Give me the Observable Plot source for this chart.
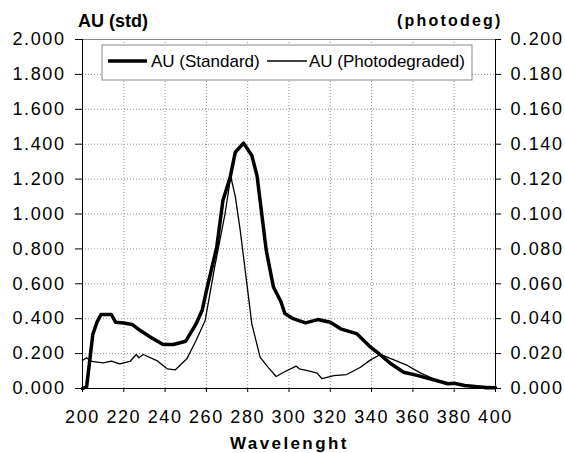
<!DOCTYPE html>
<html>
<head>
<meta charset="utf-8">
<script src="https://cdn.jsdelivr.net/npm/d3@7"></script>
<script src="https://cdn.jsdelivr.net/npm/@observablehq/plot@0.6"></script>
<style>
  html, body { margin: 0; padding: 0; background: #fff; }
  #chart svg { display: block; }
</style>
</head>
<body>
<div id="chart"></div>
<script>
// Standard series (left axis, AU std)
const stdWavelength = [200, 202, 205, 207, 209, 214, 216, 220, 224, 228, 233, 239, 244, 250, 255, 258, 260, 265, 268, 271.5, 274, 278, 282, 284.5, 286, 289, 292.5, 296, 298, 302, 308, 314, 320, 325, 333, 339.5, 344, 349, 355.5, 362, 370, 377, 380, 385, 390, 395, 400];
const stdAU = [0, 0.01, 0.31, 0.38, 0.424, 0.424, 0.38, 0.375, 0.367, 0.332, 0.294, 0.252, 0.252, 0.271, 0.37, 0.45, 0.56, 0.81, 1.077, 1.21, 1.354, 1.406, 1.335, 1.22, 1.077, 0.79, 0.58, 0.50, 0.43, 0.40, 0.376, 0.395, 0.38, 0.342, 0.313, 0.237, 0.195, 0.145, 0.093, 0.075, 0.05, 0.027, 0.03, 0.017, 0.012, 0.005, 0.005];

// Photodegraded series (right axis, AU photodeg)
const photoWavelength = [200, 202, 204.5, 210, 214, 218, 223, 226, 227.3, 229.4, 236, 241, 245, 250.5, 255, 259.4, 264, 269, 271.8, 274, 276.4, 279.6, 282, 286, 290, 293.8, 297.4, 303.5, 305, 310, 313.6, 316, 321.7, 328, 334.6, 339.5, 344.3, 350.8, 357.3, 363.8, 370, 375, 380, 386, 400];
const photoAU = [0.016, 0.0176, 0.0155, 0.0147, 0.0157, 0.0141, 0.0155, 0.0195, 0.0176, 0.0195, 0.016, 0.0113, 0.0107, 0.017, 0.0275, 0.039, 0.0695, 0.10, 0.1215, 0.11, 0.0905, 0.06, 0.037, 0.018, 0.012, 0.0069, 0.0093, 0.0128, 0.0113, 0.0099, 0.0088, 0.0056, 0.0074, 0.008, 0.0122, 0.0164, 0.0195, 0.0164, 0.0132, 0.0088, 0.0056, 0.003, 0.0027, 0.0015, 0.001];

const xTicks = [200, 220, 240, 260, 280, 300, 320, 340, 360, 380, 400];
const leftTicks = [0, 0.2, 0.4, 0.6, 0.8, 1.0, 1.2, 1.4, 1.6, 1.8, 2.0];
const rightRatio = 10; // left scale / right scale

const seriesNames = ["AU (Standard)", "AU (Photodegraded)"];
const leftTitle = "AU (std)";
const rightTitle = "(photodeg)";
const xTitle = "Wavelenght";

const stdData = stdWavelength.map((w, i) => ({w, v: stdAU[i]}));
const photoData = photoWavelength.map((w, i) => ({w, v: photoAU[i]}));

const sans = "'Liberation Sans', Arial, sans-serif";

const chart = Plot.plot({
  width: 565,
  height: 453,
  marginLeft: 82,
  marginRight: 70,
  marginTop: 39,
  marginBottom: 65,
  style: {fontFamily: sans, fontSize: "18px", letterSpacing: "1.6px", background: "#fff", color: "#000"},
  x: {domain: [200, 400]},
  y: {domain: [0, 2]},
  marks: [
    Plot.gridX(xTicks, {stroke: "#777", strokeOpacity: 0.8, strokeDasharray: "1,2"}),
    Plot.gridY(leftTicks, {stroke: "#777", strokeOpacity: 0.8, strokeDasharray: "1,2"}),
    Plot.ruleY([2], {stroke: "#888"}),
    Plot.ruleX([200], {stroke: "#000"}),
    Plot.ruleX([400], {stroke: "#000"}),
    Plot.ruleY([0], {stroke: "#000"}),
    Plot.axisX(xTicks, {anchor: "bottom", tickSize: 4, tickPadding: 18, label: null, tickFormat: d => String(d)}),
    Plot.axisY(leftTicks, {anchor: "left", tickSize: 7, tickPadding: 10, label: null, tickFormat: d3.format(".3f")}),
    Plot.axisY(leftTicks, {anchor: "right", tickSize: 5, tickPadding: 10, label: null, tickFormat: d => (d / rightRatio).toFixed(3)}),
    Plot.line(photoData, {x: "w", y: d => d.v * rightRatio, stroke: "#000", strokeWidth: 1.3, curve: "linear"}),
    Plot.line(stdData, {x: "w", y: "v", stroke: "#000", strokeWidth: 3.5, curve: "linear", strokeLinejoin: "round"})
  ]
});

document.getElementById("chart").appendChild(chart);

const svg = d3.select(chart);
// Axis titles
svg.append("text").attr("x", 78).attr("y", 27).attr("text-anchor", "start")
  .style("font-family", sans).style("font-weight", "bold")
  .style("font-size", "18px").style("letter-spacing", "0px").text(leftTitle);
svg.append("text").attr("x", 397).attr("y", 26).attr("text-anchor", "start")
  .style("font-family", sans).style("font-weight", "bold")
  .style("font-size", "16px").style("letter-spacing", "2.2px").text(rightTitle);
svg.append("text").attr("x", 230).attr("y", 449).attr("text-anchor", "start")
  .style("font-family", sans).style("font-weight", "bold")
  .style("font-size", "17px").style("letter-spacing", "2.4px").text(xTitle);

// Legend
const lg = svg.append("g");
lg.append("rect").attr("x", 102).attr("y", 45).attr("width", 370).attr("height", 35)
  .attr("fill", "#fff").attr("stroke", "#888").attr("stroke-width", 1);
lg.append("line").attr("x1", 108).attr("x2", 147).attr("y1", 61).attr("y2", 61)
  .attr("stroke", "#000").attr("stroke-width", 3.5);
lg.append("text").attr("x", 151).attr("y", 67).attr("text-anchor", "start")
  .style("font-family", sans).style("font-size", "17px")
  .style("letter-spacing", "0px").text(seriesNames[0]);
lg.append("line").attr("x1", 267).attr("x2", 307).attr("y1", 61).attr("y2", 61)
  .attr("stroke", "#000").attr("stroke-width", 1.3);
lg.append("text").attr("x", 309).attr("y", 67).attr("text-anchor", "start")
  .style("font-family", sans).style("font-size", "17px")
  .style("letter-spacing", "0px").text(seriesNames[1]);
</script>
</body>
</html>
